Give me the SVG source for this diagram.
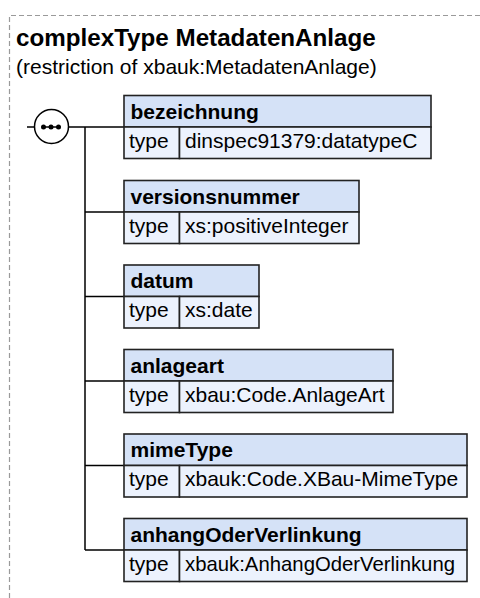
<svg xmlns="http://www.w3.org/2000/svg" width="480" height="598" viewBox="0 0 480 598">
<style>
.frame{fill:none;stroke:#9a9a9a;stroke-width:1.2;stroke-dasharray:5,3}
.title{font-family:"Liberation Sans",Arial,sans-serif;font-weight:bold;font-size:24.2px;fill:#000}
.sub{font-family:"Liberation Sans",Arial,sans-serif;font-size:21px;fill:#000}
.hd{fill:#d5e2f7;stroke:#222;stroke-width:1.6}
.row{fill:#ecf2fd;stroke:#222;stroke-width:1.6}
.name{font-family:"Liberation Sans",Arial,sans-serif;font-weight:bold;font-size:21px;fill:#000}
.txt{font-family:"Liberation Sans",Arial,sans-serif;font-size:21px;fill:#000}
.ln{stroke:#000;stroke-width:1.5;fill:none}
</style>
<path class="frame" d="M9.5,598 V15.5 H480"/>
<text class="title" x="16" y="46">complexType MetadatenAnlage</text>
<text class="sub" x="16" y="74">(restriction of xbauk:MetadatenAnlage)</text>
<g id="connectors">
<path class="ln" d="M27,127 H35 M68,127 H124 M85,127 V550 M85,212 H124 M85,296.5 H124 M85,381 H124 M85,465.5 H124 M85,550 H124"/>
</g>
<g id="sequence">
<circle cx="51.5" cy="126.5" r="17" fill="#fff" stroke="#000" stroke-width="1.5"/>
<path class="ln" d="M43,127 H59"/>
<circle cx="43.5" cy="127" r="2.5"/><circle cx="51" cy="127" r="2.5"/><circle cx="58.5" cy="127" r="2.5"/>
</g>
<g id="bezeichnung">
<rect class="hd" x="124" y="95.5" width="307" height="31.5"/>
<rect class="row" x="124" y="127" width="55.5" height="31.5"/>
<rect class="row" x="179.5" y="127" width="251.5" height="31.5"/>
<text class="name" x="130.5" y="118.5">bezeichnung</text>
<text class="txt" x="129" y="147.5">type</text>
<text class="txt" x="185" y="147.5">dinspec91379:datatypeC</text>
</g>
<g id="versionsnummer">
<rect class="hd" x="124" y="180.5" width="235" height="31.5"/>
<rect class="row" x="124" y="212" width="55.5" height="31.5"/>
<rect class="row" x="179.5" y="212" width="179.5" height="31.5"/>
<text class="name" x="130.5" y="203.5">versionsnummer</text>
<text class="txt" x="129" y="232.5">type</text>
<text class="txt" x="185" y="232.5">xs:positiveInteger</text>
</g>
<g id="datum">
<rect class="hd" x="124" y="265" width="135" height="31.5"/>
<rect class="row" x="124" y="296.5" width="55.5" height="31.5"/>
<rect class="row" x="179.5" y="296.5" width="79.5" height="31.5"/>
<text class="name" x="130.5" y="288">datum</text>
<text class="txt" x="129" y="317">type</text>
<text class="txt" x="185" y="317">xs:date</text>
</g>
<g id="anlageart">
<rect class="hd" x="124" y="349.5" width="269" height="31.5"/>
<rect class="row" x="124" y="381" width="55.5" height="31.5"/>
<rect class="row" x="179.5" y="381" width="213.5" height="31.5"/>
<text class="name" x="130.5" y="372.5">anlageart</text>
<text class="txt" x="129" y="401.5">type</text>
<text class="txt" x="185" y="401.5">xbau:Code.AnlageArt</text>
</g>
<g id="mimeType">
<rect class="hd" x="124" y="434" width="343" height="31.5"/>
<rect class="row" x="124" y="465.5" width="55.5" height="31.5"/>
<rect class="row" x="179.5" y="465.5" width="287.5" height="31.5"/>
<text class="name" x="130.5" y="457">mimeType</text>
<text class="txt" x="129" y="486">type</text>
<text class="txt" x="185" y="486">xbauk:Code.XBau-MimeType</text>
</g>
<g id="anhangOderVerlinkung">
<rect class="hd" x="124" y="518.5" width="343" height="31.5"/>
<rect class="row" x="124" y="550" width="55.5" height="31.5"/>
<rect class="row" x="179.5" y="550" width="287.5" height="31.5"/>
<text class="name" x="130.5" y="541.5">anhangOderVerlinkung</text>
<text class="txt" x="129" y="570.5">type</text>
<text class="txt" x="185" y="570.5" textLength="270" lengthAdjust="spacingAndGlyphs">xbauk:AnhangOderVerlinkung</text>
</g>
</svg>
